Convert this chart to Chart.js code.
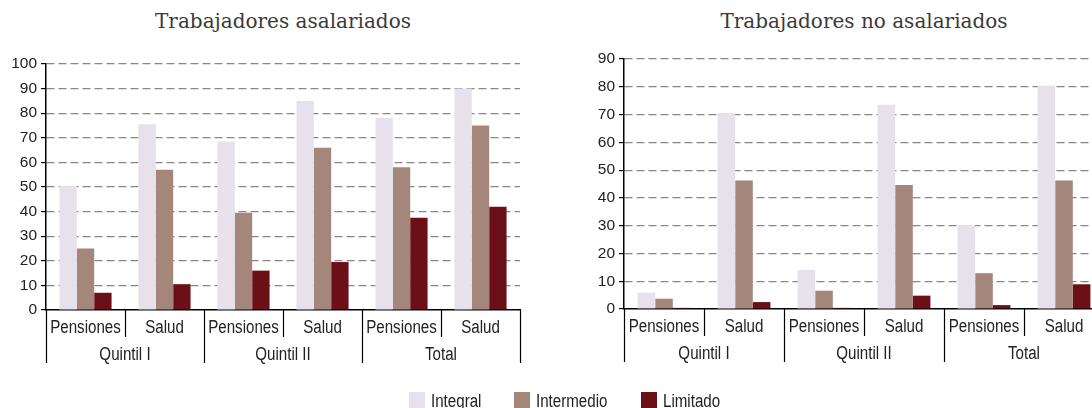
<!DOCTYPE html>
<html>
<head>
<meta charset="utf-8">
<script src="https://cdn.jsdelivr.net/npm/chart.js@4/dist/chart.umd.min.js"></script>
<style>
  html, body { margin: 0; padding: 0; background: #fff; }
  body { width: 1092px; height: 408px; overflow: hidden; position: relative; }
  .title { position: absolute; top: 9px; font-family: 'DejaVu Serif', serif; font-size: 20px; color: #3a3a3a; text-align: center; white-space: nowrap; }
  .box { position: absolute; top: 0; height: 408px; }
  #legend { position: absolute; left: 409px; top: 392px; display: flex; font-family: 'Liberation Sans', Arial, sans-serif; font-size: 18px; color: #222; line-height: 16px; }
  #legend span.item { display: flex; align-items: flex-start; }
  #legend span.sw { width: 16px; height: 16px; margin-right: 6px; display: inline-block; }
  #legend span.txt { display: inline-block; transform: scaleX(0.84); transform-origin: left top; padding-top: 1px; }
</style>
</head>
<body>
<div class="title" style="left:46px;width:474px;">Trabajadores asalariados</div>
<div class="title" style="left:624px;width:480px;">Trabajadores no asalariados</div>
<div class="box" style="left:0;width:540px;"><canvas id="left"></canvas></div>
<div class="box" style="left:560px;width:560px;"><canvas id="right"></canvas></div>
<div id="legend"></div>

<script>
// categories: two-level x axis
const groups = ['Quintil I', 'Quintil II', 'Total'];
const subLabels = ['Pensiones', 'Salud'];
const seriesNames = ['Integral', 'Intermedio', 'Limitado'];
const seriesColors = ['#e6e1eb', '#a4867b', '#6a1016'];

// Trabajadores asalariados (%)
const asalIntegral = [50.5, 75.5, 68.5, 85, 78, 90];
const asalIntermedio = [25, 57, 39.5, 66, 58, 75];
const asalLimitado = [7, 10.5, 16, 19.5, 37.5, 42];

// Trabajadores no asalariados (%)
const noAsalIntegral = [5.9, 70.6, 14.1, 73.5, 30.2, 80.4];
const noAsalIntermedio = [3.7, 46.3, 6.6, 44.6, 12.9, 46.3];
const noAsalLimitado = [0.4, 2.5, 0.4, 4.8, 1.4, 8.9];

// y axis ticks
const leftMax = 100;
const rightMax = 90;
const tickStep = 10;

const categories = [];
groups.forEach(g => subLabels.forEach(s => categories.push([s, g])));

// no narrow face installed, so squeeze Liberation Sans a bit
const labelFont = "18px 'Liberation Sans', Arial, sans-serif";
const squeeze = 0.84;

function narrowText(ctx, text, x, y) {
  ctx.save();
  ctx.translate(x, y);
  ctx.scale(squeeze, 1);
  ctx.fillText(text, 0, 0);
  ctx.restore();
}

// draws the two-level category labels and the divider lines under the x axis
const groupLabels = {
  id: 'groupLabels',
  afterDraw(chart) {
    const x = chart.scales.x;
    const ctx = chart.ctx;
    const bottom = chart.chartArea.bottom;
    const half = (x.getPixelForValue(1) - x.getPixelForValue(0)) / 2;
    ctx.save();
    ctx.strokeStyle = '#000';
    ctx.lineWidth = 1.2;
    for (let i = 0; i <= categories.length; i++) {
      const px = Math.round(x.getPixelForValue(0) - half + i * 2 * half) + 0.5;
      const len = i % subLabels.length === 0 ? 53 : 27;
      ctx.beginPath();
      ctx.moveTo(px, bottom);
      ctx.lineTo(px, bottom + len);
      ctx.stroke();
    }
    ctx.fillStyle = '#222';
    ctx.font = labelFont;
    ctx.textAlign = 'center';
    ctx.textBaseline = 'alphabetic';
    categories.forEach((c, i) => {
      narrowText(ctx, c[0], x.getPixelForValue(i), bottom + 23);
    });
    groups.forEach((g, gi) => {
      const a = x.getPixelForValue(gi * 2), b = x.getPixelForValue(gi * 2 + 1);
      narrowText(ctx, g, (a + b) / 2, bottom + 50);
    });
    ctx.restore();
  }
};

function makeChart(id, values, max, yWidth, padTop, padRight, xHeight) {
  return new Chart(document.getElementById(id), {
    type: 'bar',
    data: {
      labels: categories.map(c => c.join(' ')),
      datasets: values.map((v, i) => ({
        label: seriesNames[i],
        data: v,
        backgroundColor: seriesColors[i],
        borderWidth: 0,
        categoryPercentage: 0.66,
        barPercentage: 1
      }))
    },
    options: {
      responsive: true,
      maintainAspectRatio: false,
      animation: false,
      layout: { padding: { top: padTop, right: padRight, left: 0, bottom: 0 } },
      plugins: { legend: { display: false }, tooltip: { enabled: false } },
      scales: {
        x: {
          grid: { display: false },
          border: { display: true, color: '#000', width: 1.5 },
          ticks: { display: false },
          afterFit: s => { s.height = xHeight; }
        },
        y: {
          min: 0,
          max: max,
          ticks: {
            stepSize: tickStep,
            color: '#222',
            padding: 4,
            font: { family: "'Liberation Sans', Arial, sans-serif", size: 15.5 }
          },
          grid: {
            color: ctx => ctx.tick && ctx.tick.value === 0 ? 'rgba(0,0,0,0)' : '#878787',
            tickColor: '#000',
            tickLength: 5,
            lineWidth: 1.2
          },
          border: { display: true, color: '#000', width: 1.5, dash: [8, 4] },
          afterFit: s => { s.width = yWidth; }
        }
      }
    },
    plugins: [groupLabels]
  });
}

makeChart('left', [asalIntegral, asalIntermedio, asalLimitado], leftMax, 46, 64, 20, 98);
makeChart('right', [noAsalIntegral, noAsalIntermedio, noAsalLimitado], rightMax, 64, 59, 16, 99);

const legend = document.getElementById('legend');
seriesNames.forEach((n, i) => {
  const item = document.createElement('span');
  item.className = 'item';
  item.innerHTML = '<span class="sw" style="background:' + seriesColors[i] + '"></span><span class="txt">' + n + '</span>';
  legend.appendChild(item);
  const txt = item.querySelector('.txt');
  // the scaled text keeps its full layout width, take the excess back
  txt.style.marginRight = (33 - txt.offsetWidth * (1 - squeeze)) + 'px';
});
</script>
</body>
</html>
